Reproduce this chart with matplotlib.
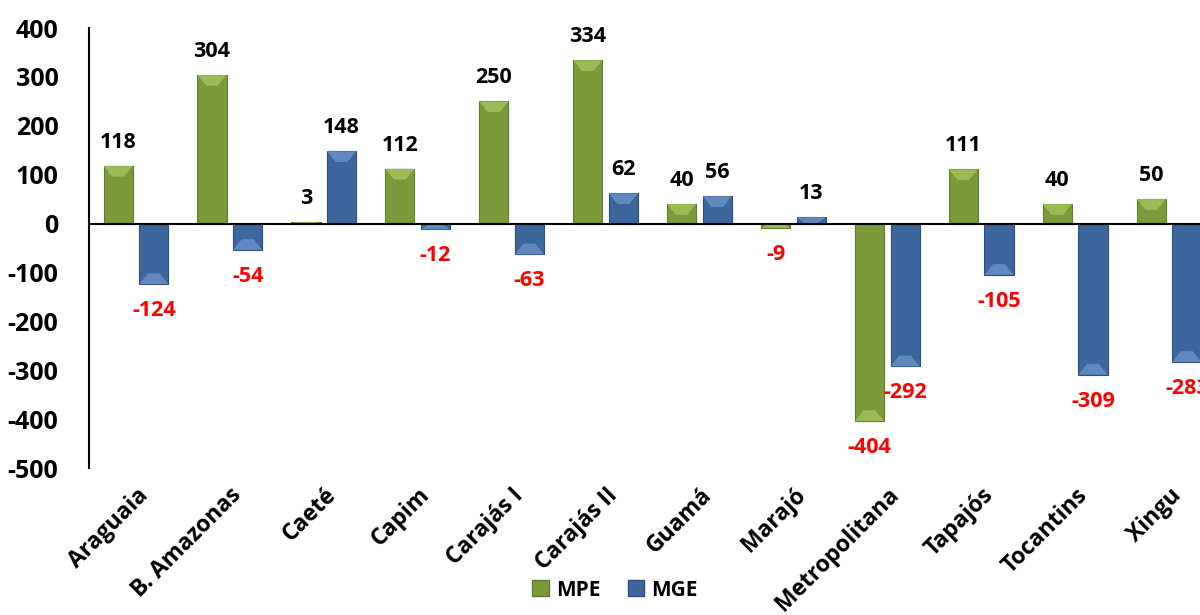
import matplotlib.pyplot as plt
import matplotlib.patches as mpatches
import numpy as np

plt.rcParams['font.family'] = ['Open Sans', 'DejaVu Sans']
plt.rcParams['font.weight'] = 'bold'

regioes = ['Araguaia', 'B. Amazonas', 'Caeté', 'Capim', 'Carajás I', 'Carajás II',
           'Guamá', 'Marajó', 'Metropolitana', 'Tapajós', 'Tocantins', 'Xingu']
mpe = [118, 304, 3, 112, 250, 334, 40, -9, -404, 111, 40, 50]
mge = [-124, -54, 148, -12, -63, 62, 56, 13, -292, -105, -309, -283]
yticks = [400, 300, 200, 100, 0, -100, -200, -300, -400, -500]

cor_mpe = '#7A9A3A'
cor_mge = '#3C679C'
luz_mpe = '#A3C45E'
luz_mge = '#6A93C8'

fig = plt.figure(figsize=(12, 6.15), dpi=100)
ax = fig.add_axes([89/1200, 1 - 468/615, 1127/1200, 440/615])

x = np.arange(len(regioes))
w = 0.31
b1 = ax.bar(x - 0.19, mpe, w, color=cor_mpe, edgecolor='#5E7A2A', linewidth=0.8, zorder=2)
b2 = ax.bar(x + 0.19, mge, w, color=cor_mge, edgecolor='#2B4D78', linewidth=0.8, zorder=2)

# bevel claro na ponta de cada barra
def bevel(bars, vals, cor):
    for bar, v in zip(bars, vals):
        x0 = bar.get_x()
        x1 = x0 + bar.get_width()
        h = min(abs(v), 22) * np.sign(v)
        d = bar.get_width() * 0.3
        pts = [(x0, v), (x1, v), (x1 - d, v - h), (x0 + d, v - h)]
        ax.add_patch(mpatches.Polygon(pts, closed=True, facecolor=cor,
                                      edgecolor='none', alpha=0.8, zorder=2.5))

bevel(b1, mpe, luz_mpe)
bevel(b2, mge, luz_mge)

def rotula(bars, vals):
    for bar, v in zip(bars, vals):
        xc = bar.get_x() + bar.get_width() / 2
        off = 17 if v >= 0 else -19
        ax.annotate(str(v), (xc, v), xytext=(0, off), textcoords='offset points',
                    ha='center', va='center', fontsize=15.5, fontweight='bold',
                    color='black' if v >= 0 else '#FF0000', annotation_clip=False)

rotula(b1, mpe)
rotula(b2, mge)

ax.axhline(0, color='black', linewidth=1.5, zorder=3)
ax.set_ylim(-500, 400)
ax.set_xlim(-0.5, len(regioes) - 0.5)
ax.set_yticks(yticks)
ax.set_yticklabels([str(t) for t in yticks], fontsize=18, fontweight='bold')
ax.tick_params(axis='y', length=0, pad=22)
ax.set_xticks(x)
ax.set_xticklabels(regioes, rotation=45, ha='right', rotation_mode='anchor',
                   fontsize=16.5, fontweight='bold')
ax.tick_params(axis='x', length=0, pad=11)

for s in ['top', 'right', 'bottom']:
    ax.spines[s].set_visible(False)
ax.spines['left'].set_linewidth(1.5)

handles = [mpatches.Patch(facecolor=cor_mpe, edgecolor='#5E7A2A', label='MPE'),
           mpatches.Patch(facecolor=cor_mge, edgecolor='#2B4D78', label='MGE')]
fig.legend(handles=handles, loc='center', bbox_to_anchor=(615/1200, 1 - 590/615),
           ncol=2, frameon=False, handlelength=0.8, handleheight=0.8,
           handletextpad=0.35, columnspacing=1.3, prop={'weight': 'bold', 'size': 15})

fig.savefig('out.png', dpi=100)
